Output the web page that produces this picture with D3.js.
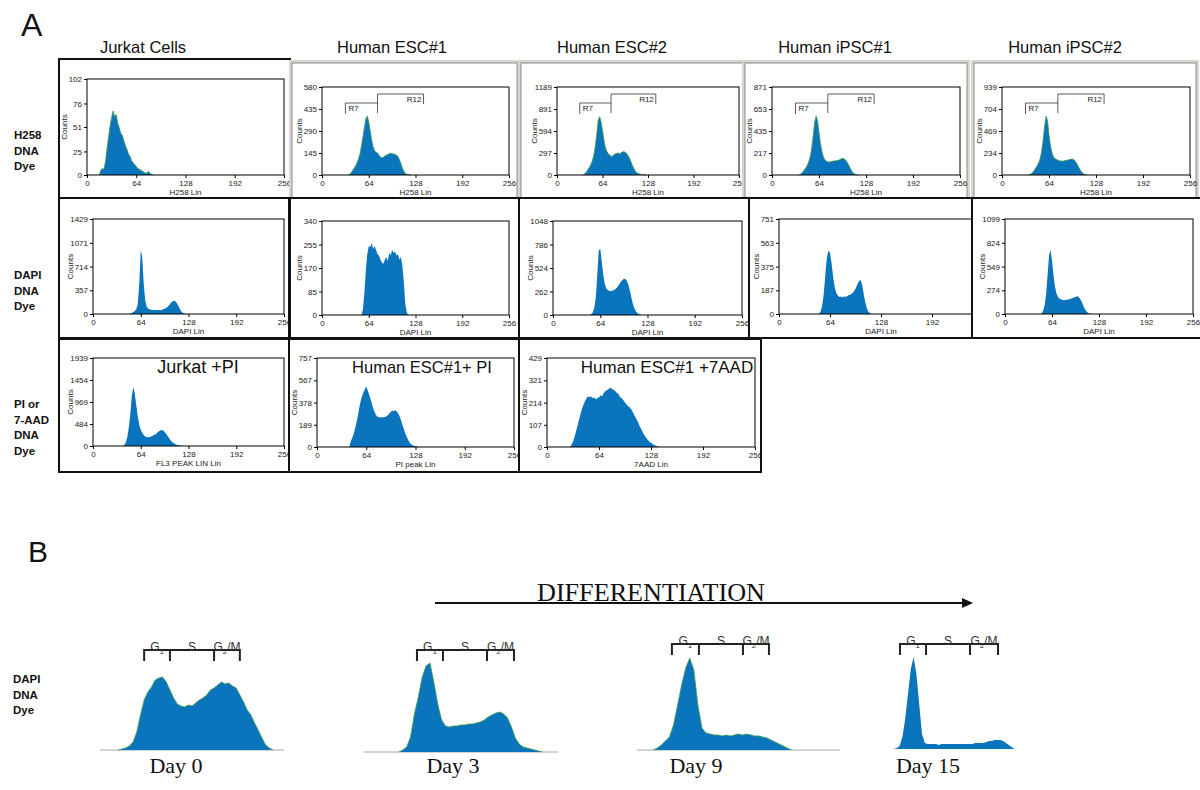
<!DOCTYPE html>
<html lang="en">
<head>
<meta charset="UTF-8">
<title>DNA content histograms</title>
<style>
  body { margin: 0; background: #fff; }
  svg { display: block; font-family: "Liberation Sans", Arial, sans-serif; }
  .tick text { font-size: 8px; fill: #222; }
  .tick line { stroke: #000; }
  .domain { display: none; }
  .frame { fill: none; stroke: #000; stroke-width: 1; }
  .box { fill: none; stroke: #111; stroke-width: 2; }
  .hist { fill: #0a74bd; }
  .edge { fill: none; stroke: #3d9b45; stroke-width: 0.8; }
  .small { font-size: 8px; fill: #222; }
  .row-label { font-size: 11.5px; font-weight: bold; fill: #111; }
  .col-title { font-size: 16.5px; fill: #111; }
  .serif { font-family: "Liberation Serif", "Times New Roman", serif; fill: #111; }
</style>
</head>
<body>
<svg id="chart" width="1200" height="790"></svg>
<script src="https://d3js.org/d3.v7.min.js"></script>
<script>
// ---- data (counts per 2-channel bin, starting at the given channel) ----
const channelStep = 2;
const xTicks = [0, 64, 128, 192, 256];
const columnTitles = ["Jurkat Cells", "Human ESC#1", "Human ESC#2", "Human iPSC#1", "Human iPSC#2"];
const rowLabels = [["H258", "DNA", "Dye"], ["DAPI", "DNA", "Dye"], ["PI  or", "7-AAD", "DNA", "Dye"]];
const gateR7 = [32, 76];
const gateR12 = [76, 139];

// H258 row
const h258Jurkat = [0, 5, 7, 6, 14, 28, 40, 52, 61, 68, 62, 64, 55, 50, 44, 42, 36, 31, 27, 22, 20, 15, 13, 11, 9, 7, 6, 5, 4, 3, 2, 2, 4, 1, 1, 0];
const h258Esc1 = [0, 5, 15, 30, 45, 60, 80, 105, 140, 190, 250, 310, 370, 388, 350, 290, 230, 185, 160, 150, 145, 130, 118, 112, 118, 125, 130, 135, 140, 144, 140, 138, 135, 130, 122, 100, 75, 45, 25, 10, 5, 3, 2, 0];
const h258Esc2 = [0, 10, 25, 50, 80, 110, 150, 200, 280, 400, 560, 740, 787, 720, 600, 470, 370, 320, 290, 270, 250, 255, 275, 285, 290, 300, 285, 300, 310, 318, 305, 290, 260, 225, 180, 130, 90, 55, 35, 20, 12, 8, 5, 3, 2, 0];
const h258Ipsc1 = [0, 5, 15, 30, 50, 70, 95, 130, 180, 260, 380, 520, 583, 540, 420, 310, 230, 180, 150, 135, 130, 128, 132, 135, 138, 140, 142, 145, 150, 158, 165, 160, 150, 130, 105, 75, 45, 25, 12, 5, 2, 0];
const h258Ipsc2 = [0, 5, 15, 30, 50, 75, 100, 130, 175, 250, 370, 520, 628, 580, 430, 310, 240, 195, 175, 165, 160, 150, 152, 148, 150, 155, 158, 160, 165, 168, 170, 160, 145, 120, 90, 60, 35, 18, 8, 3, 0];
// DAPI row
const dapiJurkat = [0, 5, 15, 30, 45, 70, 150, 450, 958, 850, 450, 200, 110, 80, 70, 65, 62, 60, 58, 60, 62, 58, 62, 70, 78, 90, 110, 130, 160, 185, 200, 195, 170, 130, 85, 45, 20, 8, 3, 0];
const dapiEsc1 = [0, 20, 80, 160, 220, 250, 245, 260, 240, 250, 235, 220, 215, 200, 190, 185, 200, 210, 195, 225, 215, 235, 225, 230, 215, 220, 200, 210, 180, 120, 40, 10, 0];
const dapiEsc2 = [0, 10, 30, 80, 200, 450, 720, 740, 600, 450, 350, 300, 280, 270, 265, 270, 275, 285, 300, 320, 345, 370, 390, 405, 400, 380, 340, 280, 200, 130, 80, 45, 25, 12, 5, 0];
const dapiIpsc1 = [0, 15, 60, 150, 300, 440, 503, 480, 400, 290, 210, 165, 145, 135, 138, 130, 140, 135, 145, 150, 155, 165, 180, 200, 230, 255, 271, 240, 170, 100, 50, 20, 8, 0];
const dapiIpsc2 = [0, 10, 40, 100, 230, 450, 680, 737, 620, 450, 320, 240, 200, 180, 170, 165, 160, 162, 165, 168, 172, 178, 185, 190, 198, 205, 200, 180, 150, 110, 70, 40, 20, 8, 3, 0];
// PI / 7-AAD row
const piJurkat = [0, 20, 80, 200, 400, 700, 1100, 1302, 1150, 900, 650, 470, 360, 290, 240, 210, 200, 195, 200, 210, 225, 240, 260, 290, 320, 340, 351, 340, 310, 270, 220, 170, 125, 90, 65, 45, 30, 20, 12, 7, 3, 0];
const piEsc1 = [0, 50, 80, 120, 170, 230, 300, 370, 420, 460, 490, 514, 480, 440, 400, 350, 310, 280, 260, 255, 250, 255, 250, 255, 260, 270, 285, 300, 310, 305, 314, 300, 280, 250, 210, 170, 130, 95, 65, 40, 25, 15, 10, 7, 5, 3, 2, 1, 0];
const aadEsc1 = [0, 10, 25, 50, 80, 110, 140, 170, 195, 215, 230, 243, 240, 245, 235, 240, 230, 235, 240, 250, 245, 260, 270, 275, 280, 287, 280, 275, 270, 260, 255, 240, 235, 225, 215, 205, 195, 190, 180, 165, 150, 135, 120, 100, 85, 70, 55, 45, 35, 25, 20, 14, 10, 6, 3, 1, 0];

// Part B: DAPI during differentiation (relative counts, arbitrary units)
const dayLabels = ["Day 0", "Day 3", "Day 9", "Day 15"];
const day0 = [0, 1, 2, 4, 8, 18, 35, 50, 58, 63, 70, 72, 73, 68, 60, 52, 46, 44, 43, 45, 44, 47, 50, 52, 55, 60, 62, 65, 68, 66, 67, 64, 62, 55, 48, 40, 35, 27, 20, 12, 5, 2, 0];
const day3 = [0, 2, 5, 15, 38, 55, 75, 86, 89, 70, 48, 32, 26, 25, 26, 26, 27, 27, 28, 28, 29, 30, 32, 35, 37, 39, 40, 38, 34, 25, 14, 8, 5, 4, 3, 2, 1, 0];
const day9 = [0, 2, 5, 9, 13, 25, 45, 65, 82, 92, 80, 45, 22, 17, 16, 15, 15, 14, 15, 14, 15, 16, 15, 16, 15, 14, 14, 13, 12, 10, 8, 6, 4, 2, 0];
const day15 = [0, 1, 3, 12, 30, 55, 80, 92, 75, 45, 15, 6, 5, 5, 5, 5, 4, 5, 5, 5, 5, 5, 5, 5, 5, 5, 5, 5, 5, 6, 6, 6, 6, 7, 8, 8, 9, 9, 9, 8, 6, 4, 2, 0];
const dayStarts = [10, 18, 8, 10];
const phaseGates = [[24, 38, 62, 76], [27.3, 40.7, 63.4, 77.3], [17.2, 30.5, 52.2, 65], [14.3, 32.9, 64.3, 84.3]];

// ---- panel layout ----
const panels = [
  { id: "a1", data: h258Jurkat, start: 16, yTicks: [0, 25, 51, 76, 102], frame: "box", box: [59, 59, 290, 198], plot: [87, 79, 284, 175], xTitle: "H258 Lin", edge: true },
  { id: "a2", data: h258Esc1, start: 36, yTicks: [0, 145, 290, 435, 580], frame: "window", box: [289, 58, 520, 199], plot: [322, 87, 509, 175], xTitle: "H258 Lin", edge: true, gates: true },
  { id: "a3", data: h258Esc2, start: 36, yTicks: [0, 297, 594, 891, 1189], frame: "window", box: [518, 58, 746, 199], plot: [557, 87, 739, 175], xTitle: "H258 Lin", edge: true, gates: true },
  { id: "a4", data: h258Ipsc1, start: 36, yTicks: [0, 217, 435, 653, 871], frame: "window", box: [742, 58, 970, 199], plot: [772, 87, 960, 175], xTitle: "H258 Lin", edge: true, gates: true },
  { id: "a5", data: h258Ipsc2, start: 36, yTicks: [0, 234, 469, 704, 939], frame: "window", box: [971, 58, 1199, 199], plot: [1002, 87, 1190, 175], xTitle: "H258 Lin", edge: true, gates: true },
  { id: "b1", data: dapiJurkat, start: 48, yTicks: [0, 357, 714, 1071, 1429], frame: "box", box: [59, 198, 290, 338], plot: [93, 219, 284, 314], xTitle: "DAPI Lin" },
  { id: "b2", data: dapiEsc1, start: 54, yTicks: [0, 85, 170, 255, 340], frame: "box", box: [289, 198, 519, 338], plot: [322, 221, 509, 315], xTitle: "DAPI Lin" },
  { id: "b3", data: dapiEsc2, start: 50, yTicks: [0, 262, 524, 786, 1048], frame: "box", box: [519, 198, 749, 338], plot: [553, 221, 742, 315], xTitle: "DAPI Lin" },
  { id: "b4", data: dapiIpsc1, start: 50, yTicks: [0, 187, 375, 563, 751], frame: "box", box: [749, 198, 972, 338], plot: [779, 219, 983, 314], xTitle: "DAPI Lin" },
  { id: "b5", data: dapiIpsc2, start: 48, yTicks: [0, 274, 549, 824, 1099], frame: "box", box: [972, 198, 1201, 338], plot: [1005, 219, 1193, 314], xTitle: "DAPI Lin" },
  { id: "c1", data: piJurkat, start: 40, yTicks: [0, 484, 969, 1454, 1939], frame: "box", box: [59, 339, 289, 472], plot: [93, 358, 284, 446], xTitle: "FL3 PEAK LIN Lin", inner: "Jurkat +PI", innerX: 198, innerSize: 18 },
  { id: "c2", data: piEsc1, start: 42, yTicks: [0, 189, 378, 567, 757], frame: "box", box: [289, 339, 519, 472], plot: [317, 358, 514, 447], xTitle: "PI peak Lin", inner: "Human ESC#1+ PI", innerX: 422, innerSize: 16.5 },
  { id: "c3", data: aadEsc1, start: 28, yTicks: [0, 107, 214, 321, 429], frame: "box", box: [519, 339, 761, 472], plot: [547, 358, 755, 447], xTitle: "7AAD Lin", inner: "Human ESC#1 +7AAD", innerX: 667, innerSize: 17 }
];

const svg = d3.select("#chart");

function drawPanel(p) {
  const [bx0, by0, bx1, by1] = p.box;
  const [px0, py0, px1, py1] = p.plot;

  if (p.frame === "window") {
    svg.append("rect").attr("x", bx0).attr("y", by0 + 2).attr("width", bx1 - bx0).attr("height", by1 - by0 - 2)
      .attr("fill", "#d8d5cf");
    svg.append("rect").attr("x", bx0 + 3).attr("y", by0 + 5).attr("width", bx1 - bx0 - 6).attr("height", by1 - by0 - 6)
      .attr("fill", "#fff").attr("stroke", "#8c8c8c").attr("stroke-width", 1);
  }

  svg.append("clipPath").attr("id", "clip-" + p.id).append("rect")
    .attr("x", bx0 + 1).attr("y", by0 + 1).attr("width", bx1 - bx0 - 2).attr("height", by1 - by0 - 2);
  const g = svg.append("g").attr("clip-path", `url(#clip-${p.id})`);

  const x = d3.scaleLinear().domain([0, 256]).range([px0, px1]);
  const y = d3.scaleLinear().domain([0, d3.max(p.yTicks)]).range([py1, py0]);
  const pts = p.data.map((v, i) => [p.start + i * channelStep, v]);

  g.append("path").datum(pts).attr("class", "hist")
    .attr("d", d3.area().x(d => x(d[0])).y0(y(0)).y1(d => y(d[1])));
  if (p.edge) {
    g.append("path").datum(pts).attr("class", "edge")
      .attr("d", d3.line().x(d => x(d[0])).y(d => y(d[1])));
  }

  g.append("rect").attr("class", "frame")
    .attr("x", px0).attr("y", py0).attr("width", px1 - px0).attr("height", py1 - py0);

  g.append("g").attr("transform", `translate(0,${py1})`)
    .call(d3.axisBottom(x).tickValues(xTicks).tickSize(3).tickPadding(2).tickFormat(d3.format("d")));
  g.append("g").attr("transform", `translate(${px0},0)`)
    .call(d3.axisLeft(y).tickValues(p.yTicks).tickSize(3).tickPadding(2).tickFormat(d3.format("d")));

  g.append("text").attr("class", "small")
    .attr("transform", `translate(${px0 - 20},${(py0 + py1) / 2}) rotate(-90)`)
    .attr("text-anchor", "middle").text("Counts");
  g.append("text").attr("class", "small")
    .attr("x", (px0 + px1) / 2).attr("y", py1 + 20).attr("text-anchor", "middle").text(p.xTitle);

  if (p.gates) {
    const r7y = py0 + 16, r12y = py0 + 7;
    g.append("path").attr("fill", "none").attr("stroke", "#333").attr("stroke-width", 0.8)
      .attr("d", `M${x(gateR7[0])},${r7y + 11}V${r7y}H${x(gateR7[1])}`);
    g.append("path").attr("fill", "none").attr("stroke", "#333").attr("stroke-width", 0.8)
      .attr("d", `M${x(gateR12[0])},${r12y + 19}V${r12y}H${x(gateR12[1])}V${r12y + 10}`);
    g.append("text").attr("class", "small").attr("x", x(gateR7[0]) + 3).attr("y", r7y + 8).text("R7");
    g.append("text").attr("class", "small").attr("x", x(gateR12[1]) - 2).attr("y", r12y + 8)
      .attr("text-anchor", "end").text("R12");
  }

  if (p.inner) {
    g.append("text").attr("x", p.innerX).attr("y", py0 + 15).attr("text-anchor", "middle")
      .attr("font-size", p.innerSize).attr("fill", "#111").text(p.inner);
  }

  if (p.frame === "box") {
    svg.append("rect").attr("class", "box")
      .attr("x", bx0).attr("y", by0).attr("width", bx1 - bx0).attr("height", by1 - by0);
  }
}

panels.forEach(drawPanel);

// column titles and row labels
const titleX = [143, 392, 612, 835, 1065];
svg.selectAll("text.col-title").data(columnTitles).enter().append("text")
  .attr("class", "col-title").attr("x", (d, i) => titleX[i]).attr("y", 53)
  .attr("text-anchor", "middle").text(d => d);

const rowLabelY = [139, 279, 408];
rowLabels.forEach((lines, r) => {
  svg.append("text").attr("class", "row-label").attr("x", 14).attr("y", rowLabelY[r])
    .selectAll("tspan").data(lines).enter().append("tspan")
    .attr("x", 14).attr("dy", (d, i) => i === 0 ? 0 : 15.5).text(d => d);
});

svg.append("text").attr("x", 21).attr("y", 36).attr("font-size", 32).attr("fill", "#111").text("A");
svg.append("text").attr("x", 28).attr("y", 562).attr("font-size", 30).attr("fill", "#111").text("B");

// ---- part B ----
svg.append("text").attr("class", "serif").attr("x", 651).attr("y", 601).attr("text-anchor", "middle")
  .attr("font-size", 26).attr("textLength", 228).attr("lengthAdjust", "spacingAndGlyphs").text("DIFFERENTIATION");
svg.append("line").attr("x1", 435).attr("x2", 964).attr("y1", 603).attr("y2", 603)
  .attr("stroke", "#111").attr("stroke-width", 2);
svg.append("path").attr("d", "M962,598L973,603L962,608Z").attr("fill", "#111");

svg.append("text").attr("class", "row-label").attr("x", 13).attr("y", 683)
  .selectAll("tspan").data(["DAPI", "DNA", "Dye"]).enter().append("tspan")
  .attr("x", 13).attr("dy", (d, i) => i === 0 ? 0 : 15.5).text(d => d);

const dayLayout = [
  { data: day0, range: [100, 284], base: 750, gateY: 650, labelX: 176, baseline: true, edge: true },
  { data: day3, range: [364, 558], base: 752, gateY: 650, labelX: 453, baseline: true, edge: true },
  { data: day9, range: [637, 840], base: 750, gateY: 644, labelX: 696, baseline: true, edge: true },
  { data: day15, range: [880, 1020], base: 749, gateY: 644, labelX: 928, baseline: false, edge: false }
];

dayLayout.forEach((L, k) => {
  const x = d3.scaleLinear().domain([0, 100]).range(L.range);
  const y = d3.scaleLinear().domain([0, 100]).range([L.base, L.base - 100]);
  const pts = L.data.map((v, i) => [dayStarts[k] + i * channelStep, v]);
  if (L.baseline) {
    svg.append("line").attr("x1", L.range[0]).attr("x2", L.range[1]).attr("y1", L.base).attr("y2", L.base)
      .attr("stroke", "#c4c4c4").attr("stroke-width", 1.5);
  }
  svg.append("path").datum(pts).attr("class", "hist")
    .attr("d", d3.area().x(d => x(d[0])).y0(y(0)).y1(d => y(d[1])));
  if (L.edge) {
    svg.append("path").datum(pts).attr("class", "edge")
      .attr("d", d3.line().x(d => x(d[0])).y(d => y(d[1])));
  }

  const gx = phaseGates[k].map(x);
  let d = `M${gx[0]},${L.gateY}H${gx[3]}`;
  gx.forEach(v => { d += `M${v},${L.gateY - 1}V${L.gateY + 11}`; });
  svg.append("path").attr("d", d).attr("stroke", "#222").attr("stroke-width", 2).attr("fill", "none");

  const phases = [
    { cx: (gx[0] + gx[1]) / 2, main: "G", sub: "1", tail: "" },
    { cx: (gx[1] + gx[2]) / 2, main: "S", sub: "", tail: "" },
    { cx: (gx[2] + gx[3]) / 2, main: "G", sub: "2", tail: "/M" }
  ];
  phases.forEach(ph => {
    const t = svg.append("text").attr("x", ph.cx).attr("y", L.gateY + 1).attr("text-anchor", "middle")
      .attr("font-size", 12).attr("fill", "#333");
    t.append("tspan").text(ph.main);
    if (ph.sub) t.append("tspan").attr("font-size", 8).attr("dy", 3).text(ph.sub);
    if (ph.tail) t.append("tspan").attr("dy", -3).text(ph.tail);
  });

  svg.append("text").attr("class", "serif").attr("x", L.labelX).attr("y", 773).attr("text-anchor", "middle")
    .attr("font-size", 22).text(dayLabels[k]);
});
</script>
</body>
</html>
